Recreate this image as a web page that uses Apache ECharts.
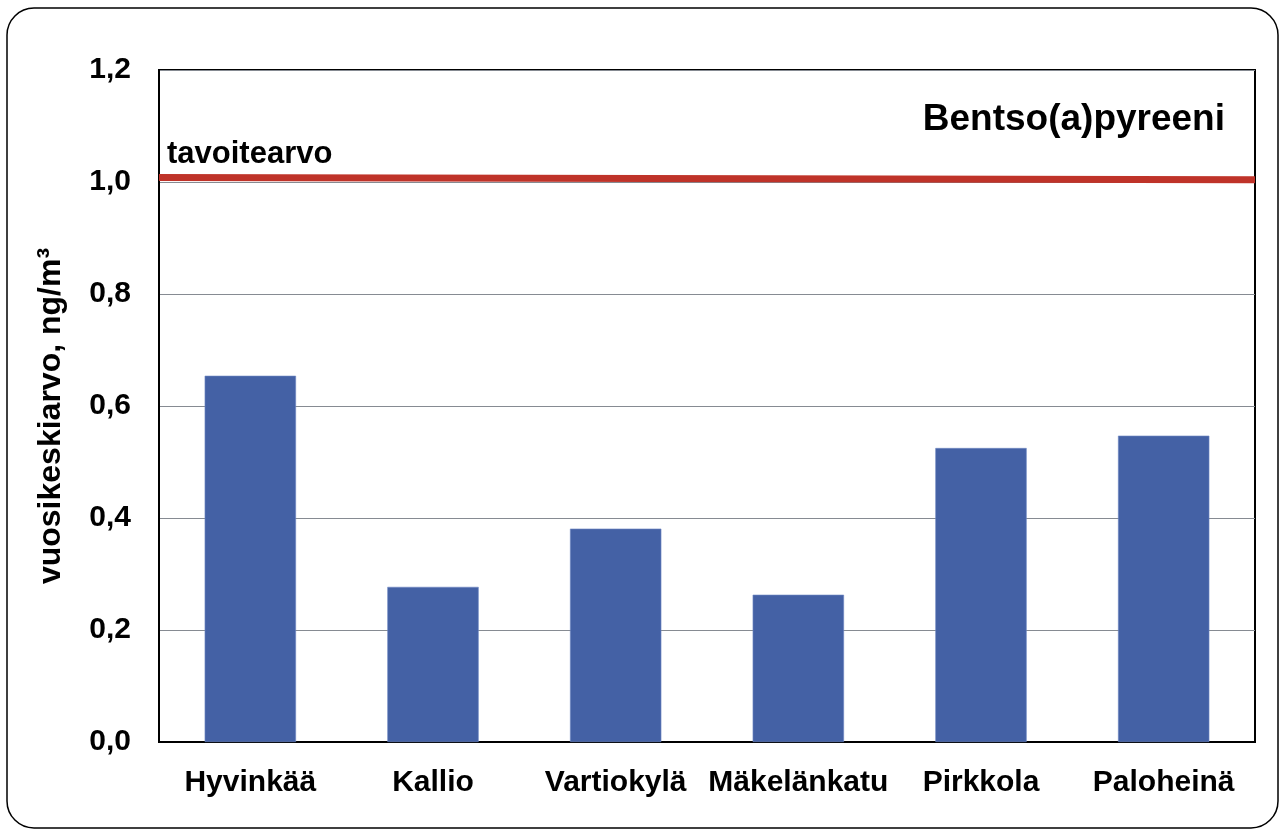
<!DOCTYPE html>
<html>
<head>
<meta charset="utf-8">
<script src="https://cdn.jsdelivr.net/npm/echarts@6/dist/echarts.min.js"></script>
<style>
  html, body { margin: 0; padding: 0; background: #fff; }
  #chart { width: 1285px; height: 836px; }
</style>
</head>
<body>
<div id="chart"></div>
<script>
const stations = ["Hyvinkää", "Kallio", "Vartiokylä", "Mäkelänkatu", "Pirkkola", "Paloheinä"];
const annualMeans = [0.654, 0.277, 0.381, 0.263, 0.525, 0.547];
const targetLine = [[0, 1.008], [1, 1.004]];
const yTicks = { min: 0, max: 1.2, interval: 0.2 };

const font = "'Liberation Sans', Arial, sans-serif";
const chart = echarts.init(document.getElementById("chart"));

chart.setOption({
  animation: false,
  title: {
    text: "Bentso(a)pyreeni",
    right: 55,
    top: 96,
    textStyle: { fontFamily: font, fontSize: 37, fontWeight: "bold", color: "#000" },
  },
  graphic: [
    {
      type: "rect",
      shape: { x: 7, y: 8, width: 1271, height: 820, r: 27 },
      style: { fill: "none", stroke: "#000", lineWidth: 1.5 },
      z: -1,
    },
    {
      type: "text",
      left: 167,
      top: 139,
      style: { text: "tavoitearvo", font: "bold 31px " + font, fill: "#000" },
    },
    {
      // y axis title, rotated
      type: "text",
      x: 51,
      y: 416,
      rotation: Math.PI / 2,
      style: {
        text: "vuosikeskiarvo, ng/m³",
        font: "bold 32px " + font,
        fill: "#000",
        align: "center",
        verticalAlign: "middle",
      },
    },
  ],
  grid: {
    left: 159,
    top: 70,
    width: 1096,
    height: 672,
    show: true,
    borderColor: "#000",
    borderWidth: 2,
    backgroundColor: "#fff",
  },
  xAxis: [
    {
      type: "category",
      data: stations,
      axisLine: { lineStyle: { color: "#000", width: 2 } },
      axisTick: { show: false },
      axisLabel: {
        margin: 26,
        color: "#000",
        fontFamily: font,
        fontSize: 30,
        fontWeight: "bold",
        interval: 0,
      },
    },
    { type: "value", min: 0, max: 1, show: false },
  ],
  yAxis: {
    type: "value",
    min: yTicks.min,
    max: yTicks.max,
    interval: yTicks.interval,
    axisLine: { show: true, lineStyle: { color: "#000", width: 2 } },
    axisTick: { show: false },
    axisLabel: {
      margin: 28,
      color: "#000",
      fontFamily: font,
      fontSize: 30,
      fontWeight: "bold",
      formatter: v => v.toFixed(1).replace(".", ","),
    },
    splitLine: { lineStyle: { color: "#868b92", width: 1 } },
  },
  series: [
    {
      type: "bar",
      data: annualMeans,
      barWidth: "50%",
      itemStyle: { color: "#4461a5", borderColor: "#6f88c2", borderWidth: 0.6 },
    },
    {
      type: "line",
      xAxisIndex: 1,
      data: targetLine,
      symbol: "none",
      lineStyle: { color: "#bf3329", width: 7 },
      z: 5,
    },
  ],
});
</script>
</body>
</html>
